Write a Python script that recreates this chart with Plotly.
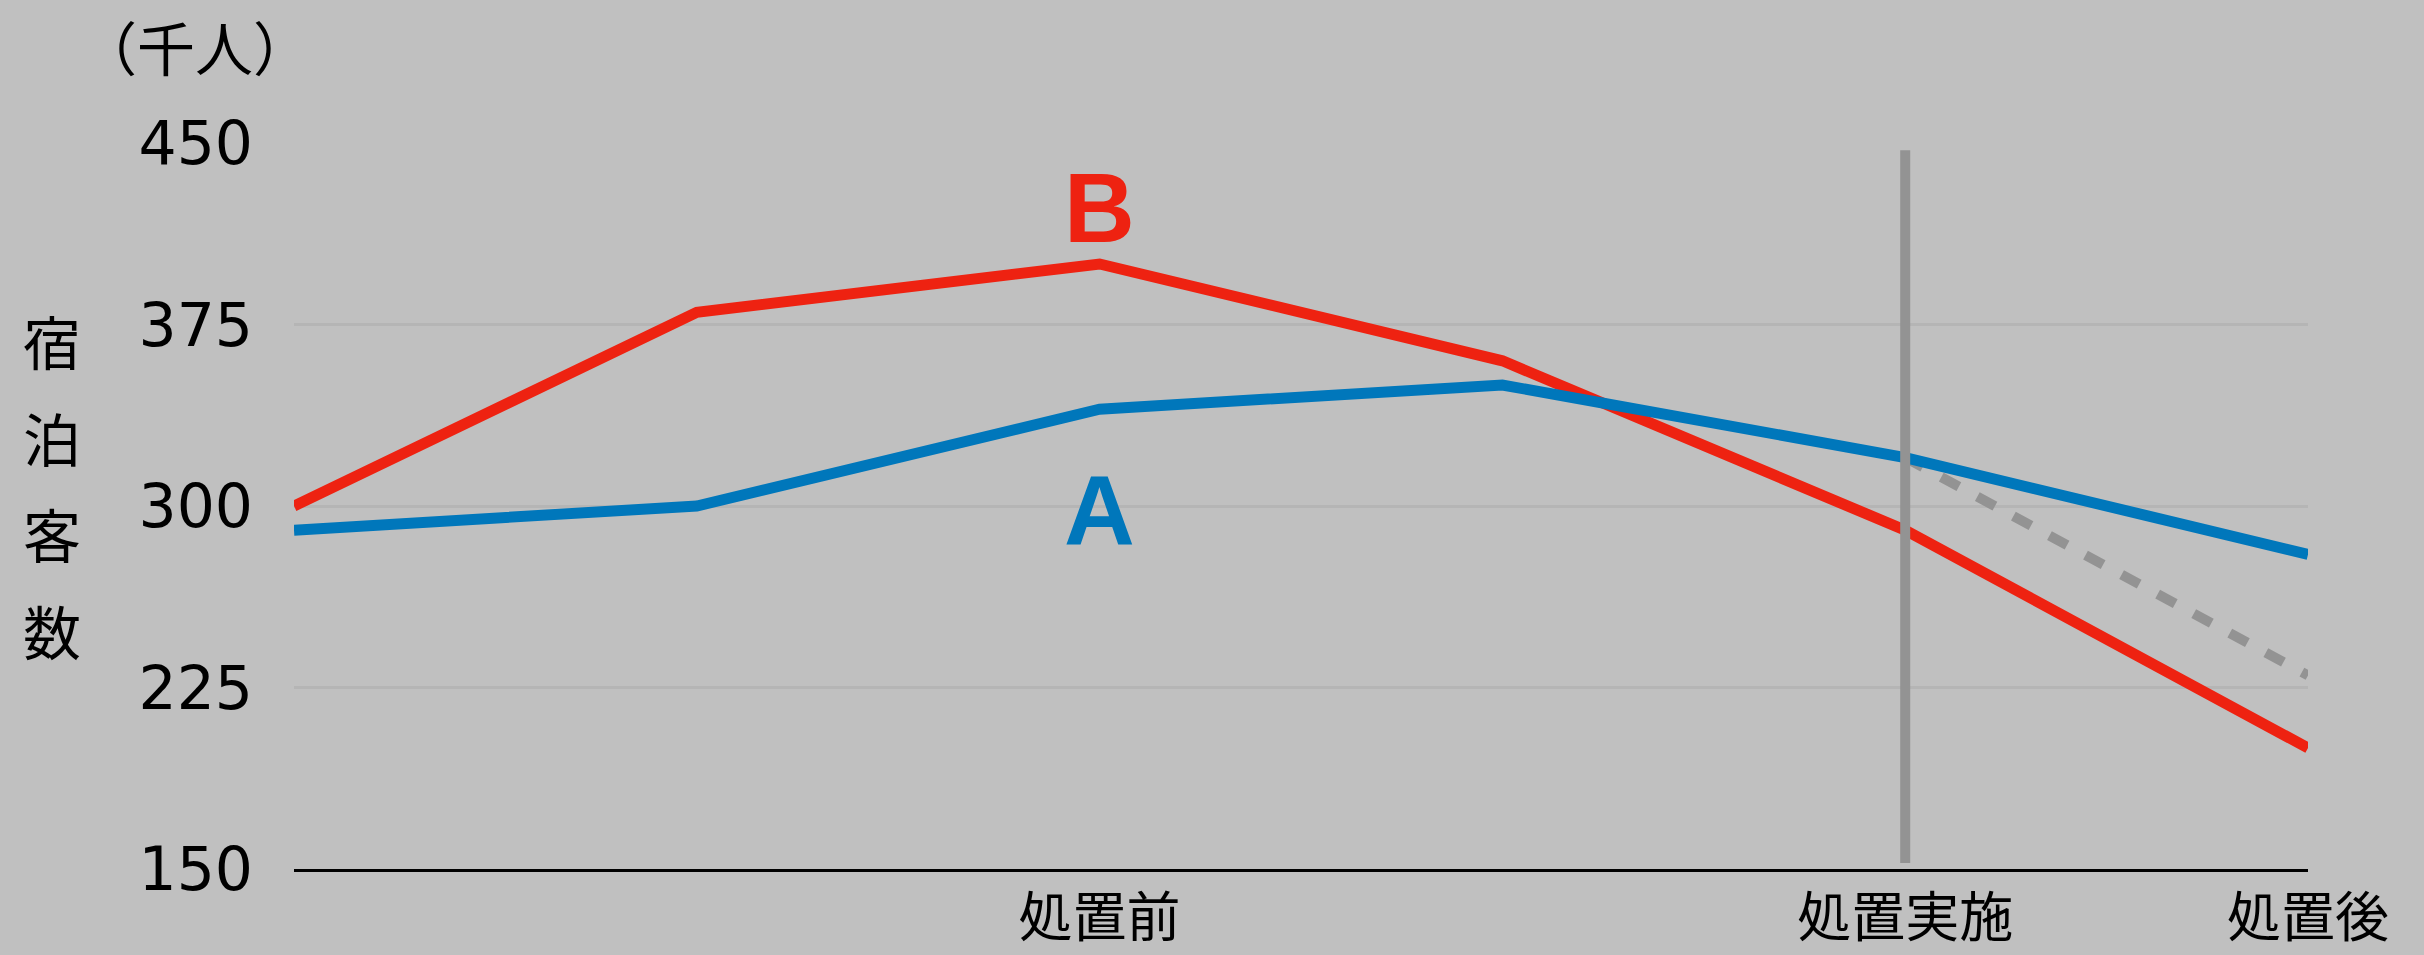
import plotly.graph_objects as go

# ---- data ----
periods = [0, 1, 2, 3, 4, 5]
series_a = [290, 300, 340, 350, 320, 280]          # A (blue)
series_b = [300, 380, 400, 360, 290, 200]          # B (red)
counterfactual = [None, None, None, None, 320, 230]  # dashed grey projection
tick_positions = [2, 4, 5]
tick_labels = ["処置前", "処置実施", "処置後"]
treatment_period = 4
y_ticks = [150, 225, 300, 375, 450]
y_range = [150, 450]
y_title_chars = ["宿", "泊", "客", "数"]
unit_label = "（千人）"

RED = "#ee2211"
BLUE = "#0077bb"
GREY = "#939393"
BG = "#c0c0c0"
JP = "Noto Sans CJK JP"

W, H = 2424, 955
L, R, T, B = 294, 116, 143, 86
PW, PH = W - L - R, H - T - B


def px_to_paper(px, py):
    return (px - L) / PW, (H - B - py) / PH


fig = go.Figure()
fig.add_trace(go.Scatter(x=periods, y=counterfactual, mode="lines",
                         line=dict(color=GREY, width=10, dash="20px,21px"),
                         hoverinfo="skip", showlegend=False))
fig.add_trace(go.Scatter(x=periods, y=series_b, mode="lines",
                         line=dict(color=RED, width=11), showlegend=False))
fig.add_trace(go.Scatter(x=periods, y=series_a, mode="lines",
                         line=dict(color=BLUE, width=11), showlegend=False))

# treatment vertical line
fig.add_shape(type="line", xref="x", yref="y",
              x0=treatment_period, x1=treatment_period, y0=152.5, y1=447,
              line=dict(color=GREY, width=10), layer="above")

# series labels
fig.add_annotation(x=2, y=423, xref="x", yref="y", text="<b>B</b>", showarrow=False,
                   xanchor="center", yanchor="middle",
                   font=dict(family="Liberation Sans", size=98, color=RED))
fig.add_annotation(x=2, y=298.5, xref="x", yref="y", text="<b>A</b>", showarrow=False,
                   xanchor="center", yanchor="middle",
                   font=dict(family="Liberation Sans", size=98, color=BLUE))

# unit label
ux, uy = px_to_paper(195, 46)
fig.add_annotation(x=ux, y=uy, xref="paper", yref="paper", text=unit_label,
                   showarrow=False, xanchor="center", yanchor="middle",
                   font=dict(family=JP, size=58, color="black"))

# y title (vertical, stacked characters)
for i, ch in enumerate(y_title_chars):
    cx, cy = px_to_paper(52, 340 + i * 96.5)
    fig.add_annotation(x=cx, y=cy, xref="paper", yref="paper", text=ch,
                       showarrow=False, xanchor="center", yanchor="middle",
                       font=dict(family=JP, size=58, color="black"))

fig.update_layout(
    width=W, height=H,
    margin=dict(l=L, r=R, t=T, b=B, pad=0, autoexpand=False),
    paper_bgcolor=BG, plot_bgcolor=BG,
    showlegend=False,
    xaxis=dict(range=[0, 5], tickvals=tick_positions, ticktext=tick_labels,
               showgrid=False, zeroline=False, showline=True, linecolor="black",
               linewidth=3, ticks="", ticklabelstandoff=0, automargin=False,
               tickfont=dict(family=JP, size=54, color="black")),
    yaxis=dict(range=y_range, tickvals=y_ticks, showgrid=True, gridcolor="#b5b5b5",
               gridwidth=3, zeroline=False, showline=False, ticks="",
               ticklabelstandoff=40, automargin=False,
               tickfont=dict(family="DejaVu Sans", size=60, color="black")),
)

fig.write_html("out.html")
